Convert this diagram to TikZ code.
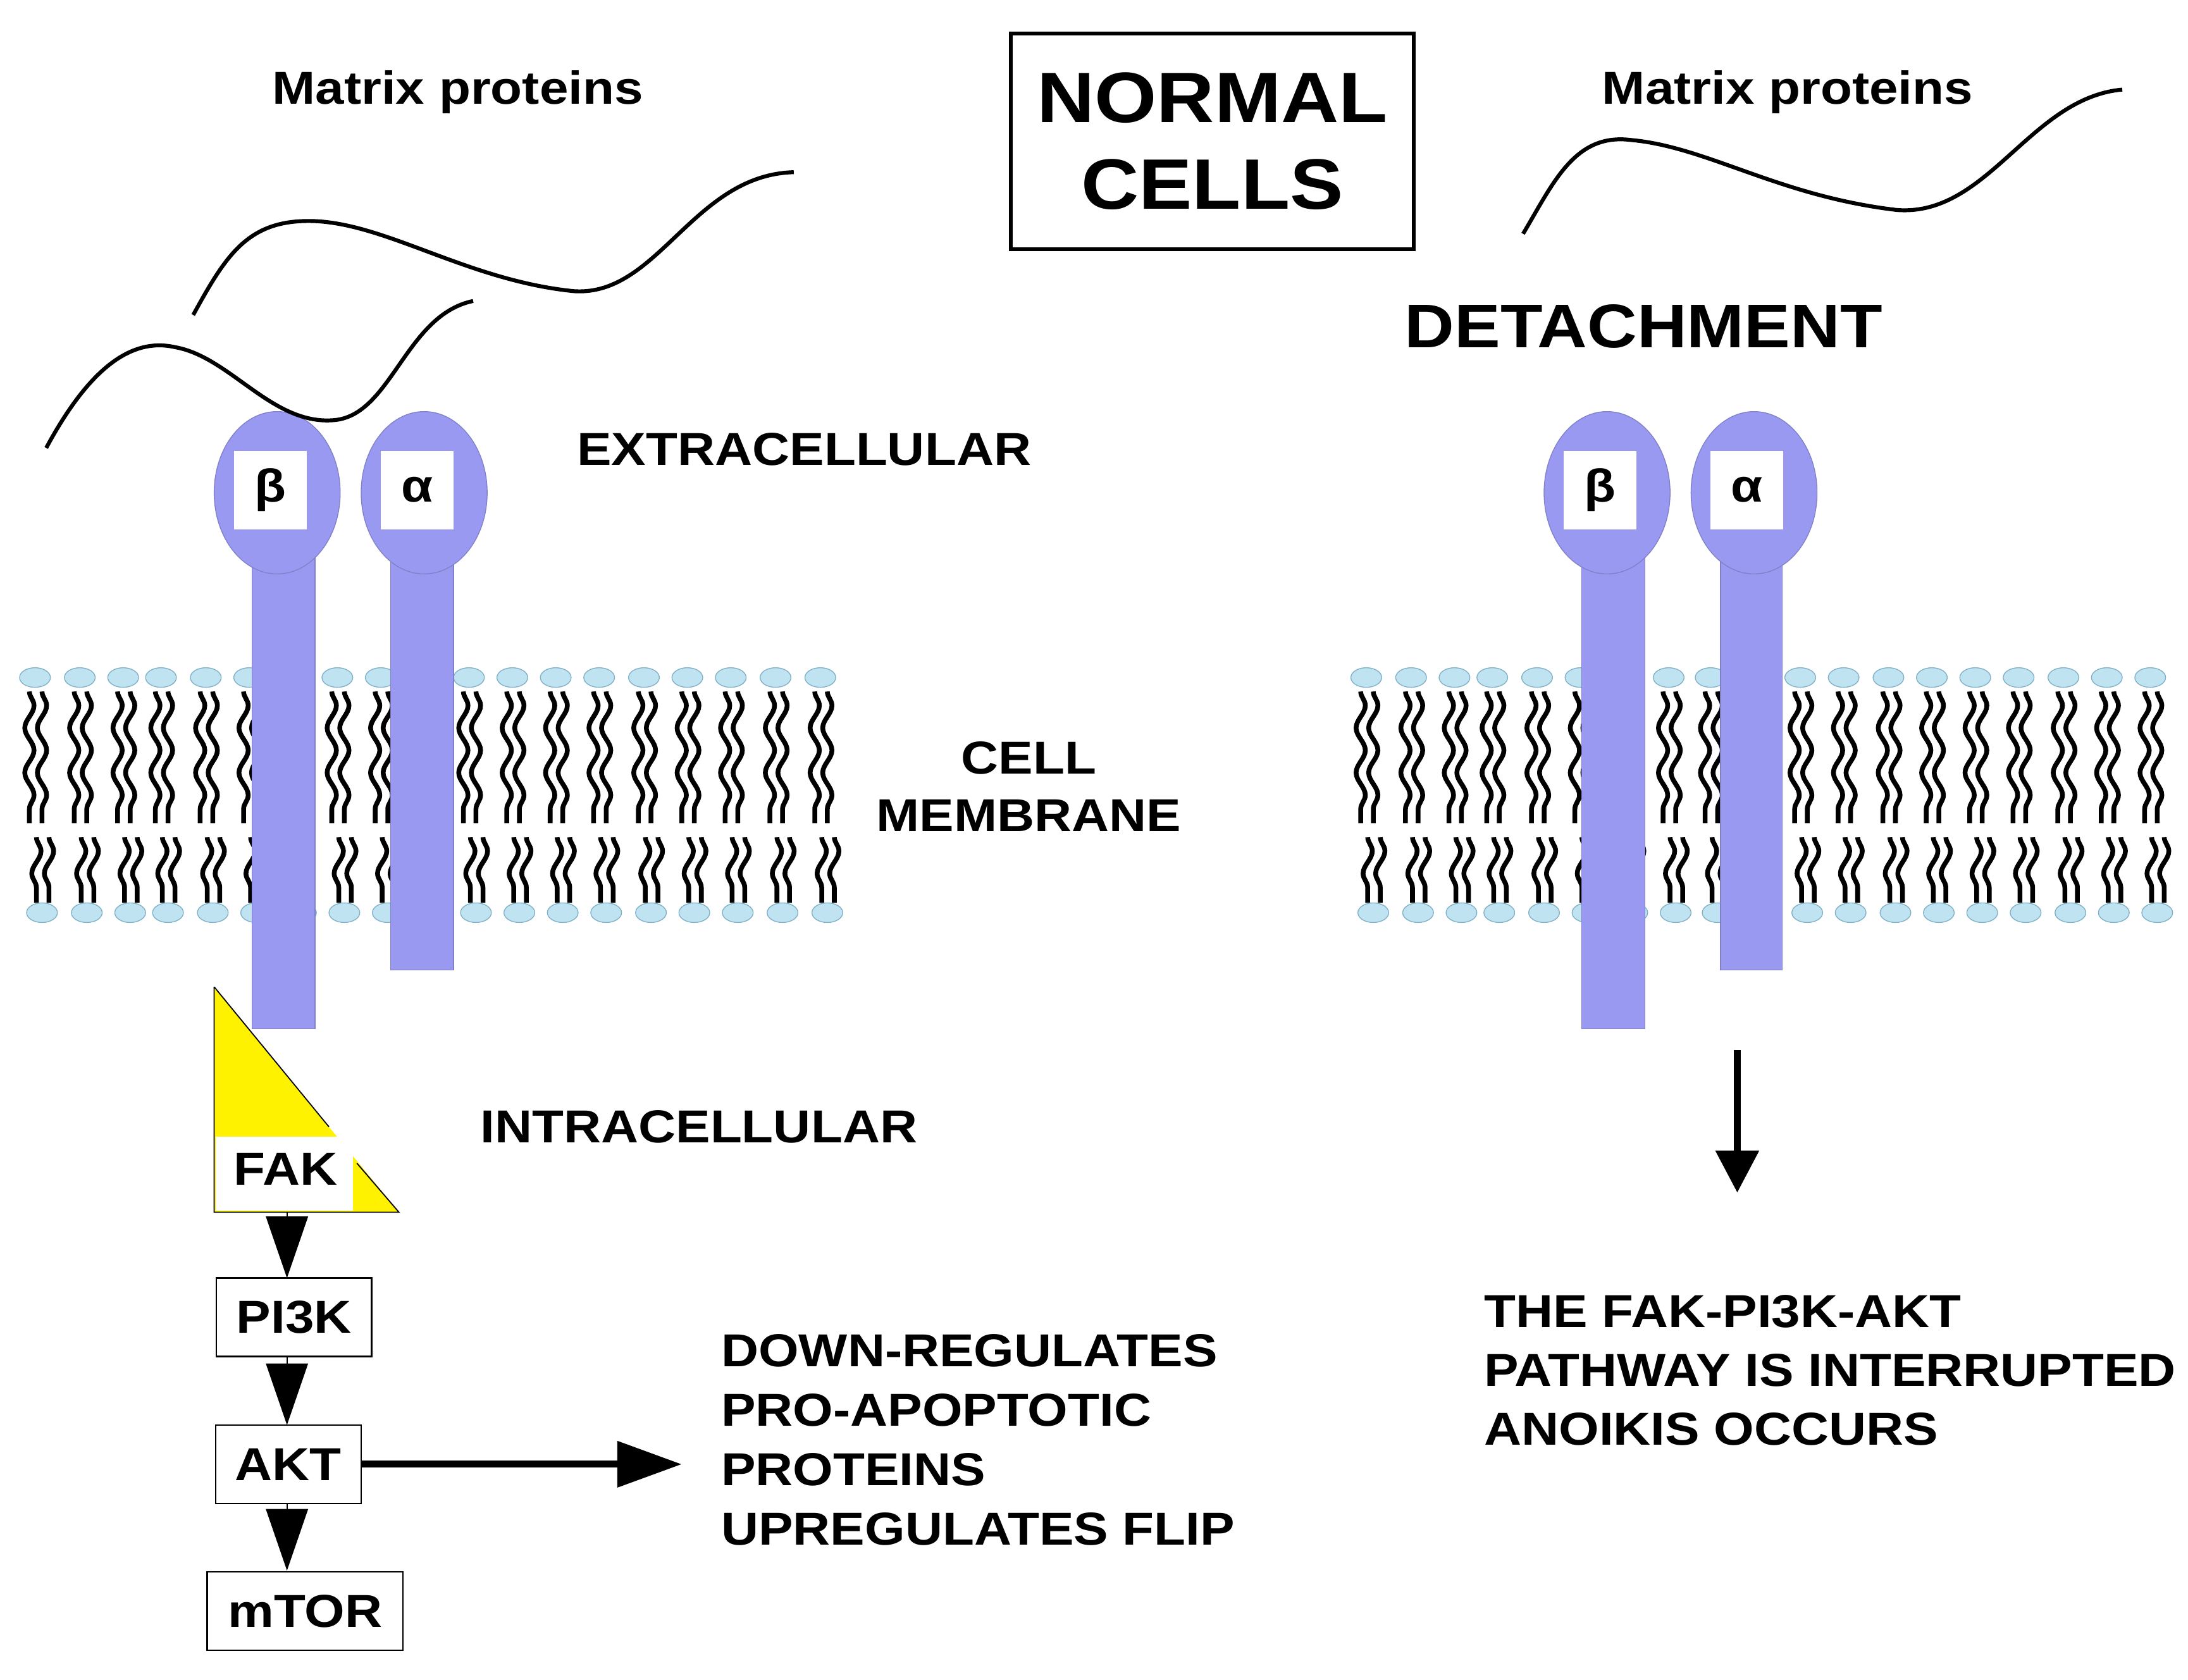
\documentclass[tikz,border=0pt]{standalone}
\usepackage{fontspec}
\setmainfont{Liberation Sans}[FakeStretch=1.12]
\usetikzlibrary{decorations.pathmorphing,arrows.meta}
\definecolor{prot}{HTML}{9999F2}
\definecolor{protline}{HTML}{8080C8}
\definecolor{head}{HTML}{BFE3F0}
\definecolor{headline}{HTML}{7FB0C8}
\begin{document}
\begin{tikzpicture}[x=1pt,y=-1pt,
  lbl/.style={font=\fontsize{33}{36}\selectfont\bfseries, inner sep=0pt},
  big/.style={font=\fontsize{33}{41}\selectfont\bfseries, inner sep=0pt, align=left},
  pbox/.style={draw, line width=1pt, fill=white, font=\fontsize{33}{36}\selectfont\bfseries, minimum height=56pt, inner sep=2pt},
  hd/.style={fill=head, draw=headline, line width=0.6pt},
  tail/.style={line width=3.4pt, decorate, decoration={snake, amplitude=3.3pt, segment length=32pt}},
  curve/.style={line width=2.8pt},
  stem/.style={fill=prot, draw=protline, line width=0.6pt},
  gl/.style={fill=white, minimum width=52pt, minimum height=56pt, font=\fontsize{33}{36}\selectfont\bfseries}
]
\useasboundingbox (0,0) rectangle (1563,1200);
\newcommand{\lip}[1]{%
  \draw[tail] (#1-4,494) -- (#1-4,588);
  \draw[tail] (#1+5,494) -- (#1+5,588);
  \draw[tail] (#1+1,598) -- (#1+1,645);
  \draw[tail] (#1+10,598) -- (#1+10,645);
  \draw[hd] (#1,484) ellipse (11pt and 7pt);
  \draw[hd] (#1+5,652) ellipse (11pt and 7pt);}
% left membrane
\foreach \x in {25,57,88,115,147,178,210,241,272,304,335,366,397,428,460,491,522,554,586} {\lip{\x}}
% right membrane
\foreach \x in {976,1008,1039,1066,1098,1129,1161,1192,1222,1254,1286,1317,1349,1380,1411,1442,1474,1505,1536} {\lip{\x}}
% left integrins
\draw[stem] (180,395) rectangle (225,735);
\draw[stem] (279,395) rectangle (324,693);
\draw[stem] (198,352) ellipse (45pt and 58pt);
\draw[stem] (303,352) ellipse (45pt and 58pt);
\node[gl] (b1) at (193,350) {β};
\node[gl] (a1) at (298,350) {α};
% right integrins
\draw[stem] (1130,395) rectangle (1175,735);
\draw[stem] (1229,395) rectangle (1273,693);
\draw[stem] (1148,352) ellipse (45pt and 58pt);
\draw[stem] (1253,352) ellipse (45pt and 58pt);
\node[gl] (b2) at (1143,350) {β};
\node[gl] (a2) at (1248,350) {α};
% matrix proteins
\draw[curve] (33,320) .. controls (60,270) and (90,240) .. (125,248) .. controls (165,255) and (195,305) .. (240,300) .. controls (280,295) and (290,225) .. (338,215);
\draw[curve] (138,225) .. controls (160,185) and (175,160) .. (215,158) .. controls (270,155) and (330,200) .. (410,208) .. controls (470,212) and (495,125) .. (567,123);
\draw[curve] (1088,167) .. controls (1110,130) and (1125,95) .. (1165,100) .. controls (1220,105) and (1270,140) .. (1355,150) .. controls (1420,155) and (1450,70) .. (1516,64);
% FAK
\fill[yellow] (153,705) -- (285,866) -- (153,866) -- cycle;
\draw[line width=0.8pt] (153,705) -- (153,866) -- (285,866) -- (255,831);
\draw[line width=0.8pt] (153,705) -- (235,805);
\fill[white] (154,812) rectangle (252,865);
\node[font=\fontsize{33}{36}\selectfont\bfseries, inner sep=0pt] (fak) at (204,835) {FAK};
\coordinate (fakb) at (205,866);
\node[pbox, minimum width=111pt] (pi3k) at (210,941) {PI3K};
\node[pbox, minimum width=104pt] (akt) at (206,1046) {AKT};
\node[pbox, minimum width=140pt] (mtor) at (218,1151) {mTOR};
\draw[-{Triangle[length=44pt,width=30pt]}, line width=1pt] (fakb) -- (205,913);
\draw[-{Triangle[length=44pt,width=30pt]}, line width=1pt] (205,969) -- (205,1018);
\draw[-{Triangle[length=44pt,width=30pt]}, line width=1pt] (205,1074) -- (205,1122);
\coordinate (dr) at (487,1046);
\draw[-{Triangle[length=46pt,width=32pt]}, line width=5pt] (akt.east) -- (dr);
\coordinate (ds) at (1241,750);
\coordinate (de) at (1241,852);
\draw[-{Triangle[length=30pt,width=30pt]}, line width=5pt] (ds) -- (de);
% texts
\node[lbl] (m1) at (327,66) {Matrix proteins};
\node[lbl] (m2) at (1277,66) {Matrix proteins};
\node[draw, line width=2.5pt, minimum width=288pt, minimum height=154pt, align=center, font=\fontsize{51}{62}\selectfont\bfseries] (nc) at (866,101) {NORMAL\\CELLS};
\node[font=\fontsize{44}{48}\selectfont\bfseries, inner sep=0pt] (det) at (1174,233) {DETACHMENT};
\node[big, anchor=west] (ex) at (412,321) {EXTRACELLULAR};
\node[big, align=center] (cm) at (735,562) {CELL\\MEMBRANE};
\node[big, anchor=west] (in) at (343,805) {INTRACELLULAR};
\node[big, anchor=north west, font=\fontsize{33}{42.5}\selectfont\bfseries] (dt) at (515,953) {DOWN-REGULATES\\PRO-APOPTOTIC\\PROTEINS\\UPREGULATES FLIP};
\node[big, anchor=north west, font=\fontsize{33}{42}\selectfont\bfseries] (rt) at (1060,925) {THE FAK-PI3K-AKT\\PATHWAY IS INTERRUPTED\\ANOIKIS OCCURS};
\end{tikzpicture}
\end{document}
